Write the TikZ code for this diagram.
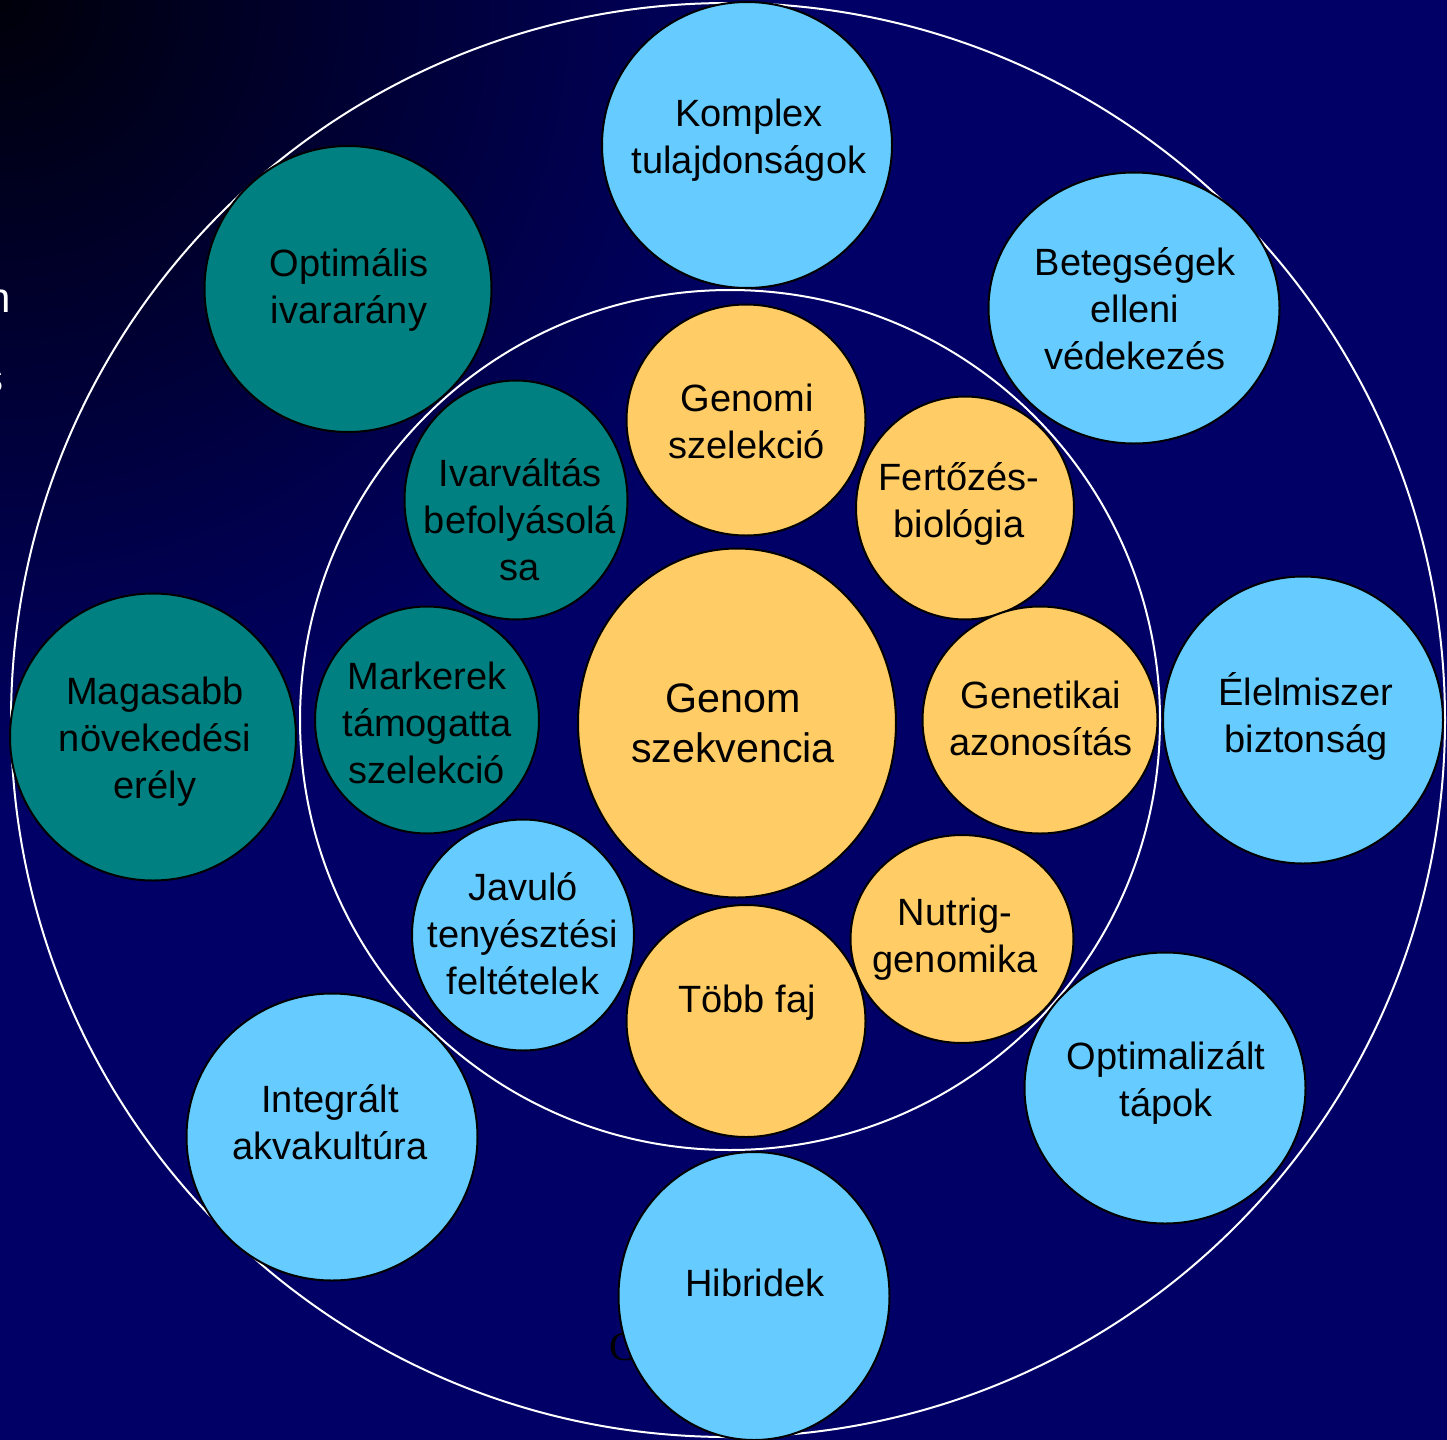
\documentclass[tikz,border=0pt]{standalone}
\usepackage{fontspec}
\setmainfont{Liberation Sans}
\newfontfamily\serifC{Liberation Serif}
\usetikzlibrary{shapes.geometric}
\definecolor{bgnavy}{RGB}{0,0,102}
\definecolor{bgdark}{RGB}{0,0,10}
\definecolor{lb}{RGB}{102,204,255}
\definecolor{orng}{RGB}{255,204,102}
\definecolor{tealc}{RGB}{0,128,128}
\pgfdeclareradialshading{bgfade}{\pgfpoint{0bp}{0bp}}{color(0bp)=(bgdark); color(14.5bp)=(bgnavy); color(50bp)=(bgnavy)}
\begin{document}
\begin{tikzpicture}[x=0.5pt,y=-0.5pt,
  bub/.style={ellipse, draw=black, line width=1pt, inner sep=0pt},
  lbub/.style={bub, fill=lb},
  obub/.style={bub, fill=orng},
  tbub/.style={bub, fill=tealc},
  txt/.style={align=center, font=\fontsize{19}{23.5}\selectfont, text=black, inner sep=0pt},
  ring/.style={circle, draw=white, line width=1pt, inner sep=0pt}]
\useasboundingbox (0,0) rectangle (1447,1440);
\fill[bgnavy] (0,0) rectangle (1447,1440);
\begin{scope}
  \clip (0,0) rectangle (1447,1440);
  \shade[shading=bgfade] (0,0) circle (1400);
\end{scope}
% clipped text fragments
\node[text=white, anchor=base east, font=\fontsize{21}{25}\selectfont, inner sep=0pt] (fragn) at (11,312) {n};
\node[text=white, anchor=base east, font=\fontsize{21}{25}\selectfont, inner sep=0pt] (frags) at (4,392) {s};
\node[text=black, anchor=base west, font=\serifC\fontsize{20.5}{24}\selectfont, inner sep=0pt] (fragc) at (609,1360) {C};
% rings
\node[ring, minimum size=717pt] (outer) at (728,720) {};
\node[ring, minimum size=430pt] (inner) at (730,720) {};
% bubbles
\node[lbub, minimum width=145pt, minimum height=143pt] (komplex) at (747,145) {};
\node[tbub, minimum width=143.5pt, minimum height=143pt] (ivar) at (348,289) {};
\node[lbub, minimum width=145.5pt, minimum height=135.5pt] (beteg) at (1134,308) {};
\node[obub, minimum width=119.5pt, minimum height=115.5pt] (genomi) at (746,420) {};
\node[obub, minimum width=109pt, minimum height=111.5pt] (fert) at (965,508) {};
\node[tbub, minimum width=111.5pt, minimum height=119.5pt] (ivarv) at (516,500) {};
\node[obub, minimum width=159pt, minimum height=174.5pt] (genom) at (737,723) {};
\node[obub, minimum width=117.5pt, minimum height=113.5pt] (genet) at (1040,720) {};
\node[lbub, minimum width=140pt, minimum height=143.5pt] (elel) at (1303,720) {};
\node[tbub, minimum width=143pt, minimum height=143.5pt] (magas) at (153,737) {};
\node[tbub, minimum width=112pt, minimum height=113.5pt] (mark) at (427,720) {};
\node[lbub, minimum width=111pt, minimum height=115.5pt] (javulo) at (523,935) {};
\node[obub, minimum width=111.5pt, minimum height=104pt] (nutrig) at (962,939) {};
\node[obub, minimum width=119.5pt, minimum height=116pt] (tobb) at (746,1021) {};
\node[lbub, minimum width=145.5pt, minimum height=143.5pt] (integ) at (332,1137) {};
\node[lbub, minimum width=140.5pt, minimum height=135.5pt] (optim) at (1165,1088) {};
\node[lbub, minimum width=135.5pt, minimum height=144pt] (hibr) at (754,1296) {};
% labels
\node[txt] (komplexT) at (749,140) {Komplex\\tulajdonságok};
\node[txt] (ivarT) at (349,290) {Optimális\\ivararány};
\node[txt] (betegT) at (1135,309) {Betegségek\\elleni\\védekezés};
\node[txt] (genomiT) at (747,421) {Genomi\\szelekció};
\node[txt] (fertT) at (959,504) {Fertőzés-\\biológia};
\node[txt] (ivarvT) at (520,520) {Ivarváltás\\befolyásolá\\sa};
\node[txt, font=\fontsize{20.6}{25}\selectfont] (genomT) at (733,723) {Genom\\szekvencia};
\node[txt] (genetT) at (1041,718) {Genetikai\\azonosítás};
\node[txt] (elelT) at (1306,716) {Élelmiszer\\biztonság};
\node[txt] (magasT) at (155,742) {Magasabb\\növekedési\\erély};
\node[txt] (markT) at (427,723) {Markerek\\támogatta\\szelekció};
\node[txt] (javuloT) at (523,934) {Javuló\\tenyésztési\\feltételek};
\node[txt] (nutrigT) at (955,939) {Nutrig-\\genomika};
\node[txt] (tobbT) at (747,1003) {Több faj};
\node[txt] (integT) at (330,1122) {Integrált\\akvakultúra};
\node[txt] (optimT) at (1166,1083) {Optimalizált\\tápok};
\node[txt] (hibrT) at (755,1283) {Hibridek};
\end{tikzpicture}
\end{document}
